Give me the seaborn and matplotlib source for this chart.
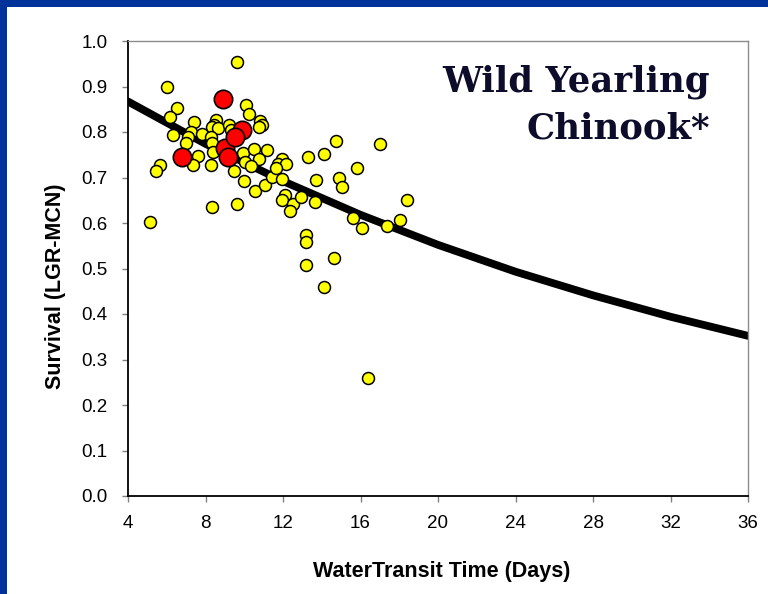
import matplotlib
matplotlib.use("Agg")
import matplotlib.pyplot as plt
from matplotlib.patches import Rectangle
import numpy as np
import pandas as pd
import seaborn as sns

# Water transit time (days) and LGR-MCN survival, yearly estimates
wild_days = [
    9.61, 6.00, 6.51, 6.17, 6.31, 7.42, 7.23, 7.11, 6.99, 7.80, 7.60, 7.34,
    5.65, 5.45, 8.53, 8.46, 8.35, 8.65, 8.27, 8.32, 8.27, 8.40, 8.34, 9.21,
    9.30, 10.09, 10.25, 10.81, 10.90, 10.78, 9.95, 10.52, 11.16, 10.78, 10.04,
    10.35, 9.47, 9.99, 9.64, 10.55, 11.07, 11.42, 11.96, 11.76, 12.16, 11.64,
    11.93, 12.10, 11.93, 12.53, 12.36, 12.93, 5.14, 8.90,
    14.72, 17.02, 14.12, 13.29, 15.80, 13.69, 14.91, 15.05, 18.42, 13.65,
    15.60, 16.08, 17.35, 18.04, 13.19, 13.17, 14.63, 13.19, 14.12, 16.40,
]
wild_survival = [
    0.954, 0.900, 0.852, 0.834, 0.793, 0.823, 0.800, 0.788, 0.775, 0.795, 0.747, 0.727,
    0.727, 0.714, 0.826, 0.816, 0.810, 0.808, 0.790, 0.775, 0.727, 0.757, 0.636, 0.815,
    0.804, 0.859, 0.840, 0.824, 0.815, 0.810, 0.753, 0.763, 0.760, 0.740, 0.735,
    0.725, 0.714, 0.693, 0.642, 0.670, 0.683, 0.702, 0.741, 0.730, 0.729, 0.720,
    0.696, 0.662, 0.651, 0.642, 0.627, 0.657, 0.602, 0.760,
    0.780, 0.774, 0.751, 0.744, 0.720, 0.694, 0.698, 0.680, 0.650, 0.647,
    0.610, 0.588, 0.594, 0.606, 0.574, 0.559, 0.522, 0.508, 0.459, 0.259,
]

# Highlighted recent years
recent_days = [9.01, 8.89, 9.87, 9.52, 6.80, 9.18]
recent_survival = [0.764, 0.873, 0.804, 0.788, 0.744, 0.744]

# Fitted survival curve, read at the axis ticks
curve_days = [4, 8, 12, 16, 20, 24, 28, 32, 36]
curve_survival = [0.867, 0.774, 0.692, 0.618, 0.552, 0.493, 0.441, 0.394, 0.352]

x_ticks = [4, 8, 12, 16, 20, 24, 28, 32, 36]
y_ticks = [0.0, 0.1, 0.2, 0.3, 0.4, 0.5, 0.6, 0.7, 0.8, 0.9, 1.0]

sns.set_style("ticks")
plt.rcParams["font.family"] = ["Liberation Sans", "DejaVu Sans"]
plt.rcParams["text.color"] = "black"

wild = pd.DataFrame({"days": wild_days, "survival": wild_survival})
recent = pd.DataFrame({"days": recent_days, "survival": recent_survival})
curve = pd.DataFrame({"days": curve_days, "survival": curve_survival})

fig = plt.figure(figsize=(7.68, 5.94), dpi=100)
fig.patch.set_facecolor("white")
ax = fig.add_axes([128 / 768, 98 / 594, 620 / 768, 455 / 594])

sns.lineplot(data=curve, x="days", y="survival", color="black", linewidth=5.6,
             ax=ax, zorder=2, sort=True, estimator=None)
sns.scatterplot(data=wild, x="days", y="survival", color="#FFFF00",
                edgecolor="black", linewidth=1.1, s=74, ax=ax, zorder=3)
sns.scatterplot(data=recent, x="days", y="survival", color="#FF0000",
                edgecolor="black", linewidth=1.2, s=175, ax=ax, zorder=4)

ax.set_xlim(4, 36)
ax.set_ylim(0, 1.0)
ax.set_xticks(x_ticks)
ax.set_xticklabels([str(t) for t in x_ticks])
ax.set_yticks(y_ticks)
ax.set_yticklabels([f"{t:.1f}" for t in y_ticks])
ax.tick_params(axis="both", direction="out", length=4.5, width=1.0,
               color="#808080", labelsize=13.5, labelcolor="black")
ax.tick_params(axis="y", pad=10)
ax.tick_params(axis="x", pad=9)

for side in ("left", "bottom"):
    ax.spines[side].set_color("black")
    ax.spines[side].set_linewidth(1.3)
for side in ("top", "right"):
    ax.spines[side].set_visible(True)
    ax.spines[side].set_color("#8c8c8c")
    ax.spines[side].set_linewidth(1.0)

ax.set_xlabel("")
ax.set_ylabel("")
fig.text(442 / 768, 1 - 572 / 594, "WaterTransit Time (Days)", ha="center",
         va="center", fontsize=15.5, fontweight="bold", color="black")
fig.text(56 / 768, 1 - 286 / 594, "Survival (LGR-MCN)", ha="center",
         va="center", rotation=90, fontsize=15.5, fontweight="bold", color="black")

ax.text(0.938, 0.86, "Wild Yearling\nChinook*", transform=ax.transAxes,
        ha="right", va="center", multialignment="right", fontsize=25.5,
        fontweight="bold", family=["DejaVu Serif"], color="#0d0d2b",
        linespacing=1.45)

# Slide frame: blue strips along the left and top edges
fig.patches.append(Rectangle((0, 0), 7 / 768, 1, transform=fig.transFigure,
                             facecolor="#003399", edgecolor="none", zorder=10))
fig.patches.append(Rectangle((0, 1 - 7 / 594), 1, 7 / 594, transform=fig.transFigure,
                             facecolor="#003399", edgecolor="none", zorder=10))

fig.savefig("out.png", dpi=100, facecolor="white")
